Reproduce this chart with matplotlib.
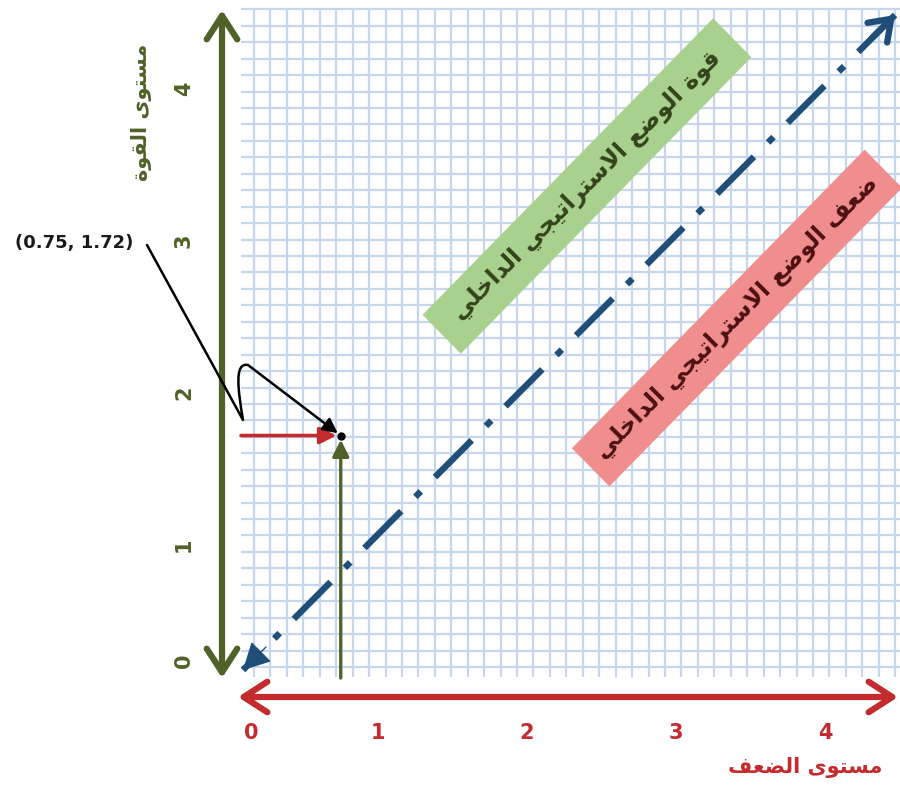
import matplotlib
matplotlib.use("Agg")
import matplotlib.pyplot as plt
from matplotlib.patches import FancyArrowPatch, Polygon
from matplotlib.path import Path
import numpy as np

plt.rcParams['font.family'] = ['DejaVu Sans']
plt.rcParams['lines.scale_dashes'] = False

# ---------------- data ----------------
point_x = 0.75
point_y = 1.72
x_tick_labels = ['0', '1', '2', '3', '4']
x_tick_pos = [0.15, 1, 2, 3, 4]
y_tick_labels = ['0', '1', '2', '3', '4']
y_tick_pos = [0.24, 1, 2, 3, 4]
x_label = 'مستوى الضعف'
y_label = 'مستوى القوة'
band_strength = 'قوة الوضع الاستراتيجي الداخلي'
band_weakness = 'ضعف الوضع الاستراتيجي الداخلي'

# ---------------- colors ----------------
GREEN = '#4f6228'
RED = '#c42b2f'
BLUE = '#1f4e79'
GRID = '#c6d6ec'

# ---------------- simple Arabic shaping ----------------
FORMS = {
    'ا': ('\uFE8D', '\uFE8E', None, None),
    'إ': ('\uFE87', '\uFE88', None, None),
    'ة': ('\uFE93', '\uFE94', None, None),
    'ت': ('\uFE95', '\uFE96', '\uFE97', '\uFE98'),
    'ج': ('\uFE9D', '\uFE9E', '\uFE9F', '\uFEA0'),
    'خ': ('\uFEA5', '\uFEA6', '\uFEA7', '\uFEA8'),
    'د': ('\uFEA9', '\uFEAA', None, None),
    'ر': ('\uFEAD', '\uFEAE', None, None),
    'س': ('\uFEB1', '\uFEB2', '\uFEB3', '\uFEB4'),
    'ض': ('\uFEBD', '\uFEBE', '\uFEBF', '\uFEC0'),
    'ع': ('\uFEC9', '\uFECA', '\uFECB', '\uFECC'),
    'ف': ('\uFED1', '\uFED2', '\uFED3', '\uFED4'),
    'ق': ('\uFED5', '\uFED6', '\uFED7', '\uFED8'),
    'ل': ('\uFEDD', '\uFEDE', '\uFEDF', '\uFEE0'),
    'م': ('\uFEE1', '\uFEE2', '\uFEE3', '\uFEE4'),
    'و': ('\uFEED', '\uFEEE', None, None),
    'ى': ('\uFEEF', '\uFEF0', None, None),
    'ي': ('\uFEF1', '\uFEF2', '\uFEF3', '\uFEF4'),
}


def shape(s):
    out = []
    i = 0
    n = len(s)
    while i < n:
        c = s[i]
        if c not in FORMS:
            out.append(c)
            i += 1
            continue
        prev = s[i - 1] if i > 0 else None
        joins_prev = prev in FORMS and FORMS[prev][2] is not None
        if c == 'ل' and i + 1 < n and s[i + 1] in ('ا', 'إ'):
            if s[i + 1] == 'ا':
                out.append('\uFEFC' if joins_prev else '\uFEFB')
            else:
                out.append('\uFEFA' if joins_prev else '\uFEF9')
            i += 2
            continue
        nxt = s[i + 1] if i + 1 < n else None
        iso, fin, ini, med = FORMS[c]
        joins_next = ini is not None and nxt in FORMS
        if joins_prev and joins_next:
            g = med
        elif joins_prev:
            g = fin
        elif joins_next:
            g = ini
        else:
            g = iso
        out.append(g)
        i += 1
    return ''.join(reversed(out))


# ---------------- figure ----------------
W, H = 900, 785
X0, SX = 229.0, 149.0   # pixel of x=0, pixels per unit
Y0, SY = 697.0, 152.0


def px(x, y):
    return ((x - X0) / SX, (Y0 - y) / SY)


fig = plt.figure(figsize=(9, 7.85), dpi=100)
ax = fig.add_axes([0, 0, 1, 1])
ax.set_xlim(-X0 / SX, (W - X0) / SX)
ax.set_ylim((Y0 - H) / SY, Y0 / SY)
ax.axis('off')

# grid
gx0, gy0 = px(241, 677)
gx1, gy1 = px(900, 8)
vx = [px(254 + k * 16.44, 0)[0] for k in range(40)]
hy = [px(0, 667 - k * 16.44)[1] for k in range(41)]
ax.vlines(vx, gy0, gy1, colors=GRID, lw=1.6, zorder=1)
ax.hlines(hy, gx0, gx1, colors=GRID, lw=1.6, zorder=1)

# bands


def band(cx, cy, length, width, color, text, tcolor, fs):
    d = np.array([1.0, 1.0]) / np.sqrt(2)
    nrm = np.array([-1.0, 1.0]) / np.sqrt(2)
    c = np.array([cx, cy])
    pts = [c - d * length / 2 - nrm * width / 2,
           c + d * length / 2 - nrm * width / 2,
           c + d * length / 2 + nrm * width / 2,
           c - d * length / 2 + nrm * width / 2]
    ax.add_patch(Polygon(pts, closed=True, fc=color, ec='none', zorder=2))
    ax.text(cx, cy, shape(text), rotation=45, rotation_mode='anchor',
            ha='center', va='center', color=tcolor, fontsize=fs,
            fontweight='bold', zorder=3)


bx, by = px(587, 186)
band(bx, by, 411 / SX, 54 / SX, '#a9d18e', band_strength, '#33421a', 17)
rx, ry = px(737, 318)
band(rx, ry, 414 / SX, 53 / SX, '#f08e8e', band_weakness, '#4d1010', 17)

# diagonal dash-dot line
d_start = px(243, 670)
d_end = px(895, 15)
ax.plot([d_end[0], d_start[0]], [d_end[1], d_start[1]], color=BLUE, lw=4.6,
        dashes=[37.5, 14.5, 5.5, 14.5], solid_capstyle='butt',
        dash_capstyle='butt', zorder=4)
ax.add_patch(FancyArrowPatch(px(872, 38), d_end,
                             arrowstyle='->,head_length=14,head_width=10',
                             color=BLUE, lw=4.6, shrinkA=0, shrinkB=0,
                             zorder=4))
ax.add_patch(FancyArrowPatch(px(266, 647), d_start,
                             arrowstyle='-|>,head_length=17,head_width=9',
                             color=BLUE, lw=1, shrinkA=0, shrinkB=0,
                             zorder=4))

# main axis arrows
ax.add_patch(FancyArrowPatch(px(222, 678), px(222, 10),
                             arrowstyle='<->,head_length=17,head_width=11',
                             color=GREEN, lw=4.5, shrinkA=0, shrinkB=0,
                             zorder=5))
ax.add_patch(FancyArrowPatch(px(238, 697), px(898, 697),
                             arrowstyle='<->,head_length=17,head_width=11',
                             color=RED, lw=4.5, shrinkA=0, shrinkB=0,
                             zorder=5))

# guide arrows to the point
ax.add_patch(FancyArrowPatch((px(241, 0)[0], point_y), (point_x, point_y),
                             arrowstyle='-|>,head_length=10,head_width=5',
                             color=RED, lw=2.6, shrinkA=0, shrinkB=3,
                             zorder=6))
ax.add_patch(FancyArrowPatch((point_x, px(0, 678)[1]), (point_x, point_y),
                             arrowstyle='-|>,head_length=10,head_width=5',
                             color=GREEN, lw=2.4, shrinkA=0, shrinkB=3,
                             zorder=6))
ax.plot([point_x], [point_y], 'o', color='black', ms=5, zorder=7)

# callout
verts = [px(147, 245), px(243, 420), px(238, 390), px(234, 362),
         px(248, 365), (point_x - 0.02, point_y + 0.015)]
codes = [Path.MOVETO, Path.LINETO, Path.CURVE4, Path.CURVE4, Path.CURVE4,
         Path.LINETO]
ax.add_patch(FancyArrowPatch(path=Path(verts, codes),
                             arrowstyle='-|>,head_length=9,head_width=4.5',
                             color='black', lw=1.8, zorder=7))
lx, ly = px(74, 243)
ax.text(lx, ly, f'({point_x:.2f}, {point_y:.2f})', ha='center', va='center',
        fontsize=13, fontweight='bold', color='#1a1a1a', zorder=7)

# tick labels
ty = px(0, 733)[1]
for p, t in zip(x_tick_pos, x_tick_labels):
    ax.text(p, ty, t, ha='center', va='center', fontsize=15,
            fontweight='bold', color=RED)
tx = px(184, 0)[0]
for p, t in zip(y_tick_pos, y_tick_labels):
    ax.text(tx, p, t, ha='center', va='center', fontsize=15,
            fontweight='bold', color=GREEN, rotation=90)

# axis titles
xlx, xly = px(805, 768)
ax.text(xlx, xly, shape(x_label), ha='center', va='center', fontsize=15,
        fontweight='bold', color=RED)
ylx, yly = px(142, 112)
ax.text(ylx, yly, shape(y_label), ha='center', va='center', fontsize=15,
        fontweight='bold', color=GREEN, rotation=90)

fig.savefig('out.png', dpi=100)
